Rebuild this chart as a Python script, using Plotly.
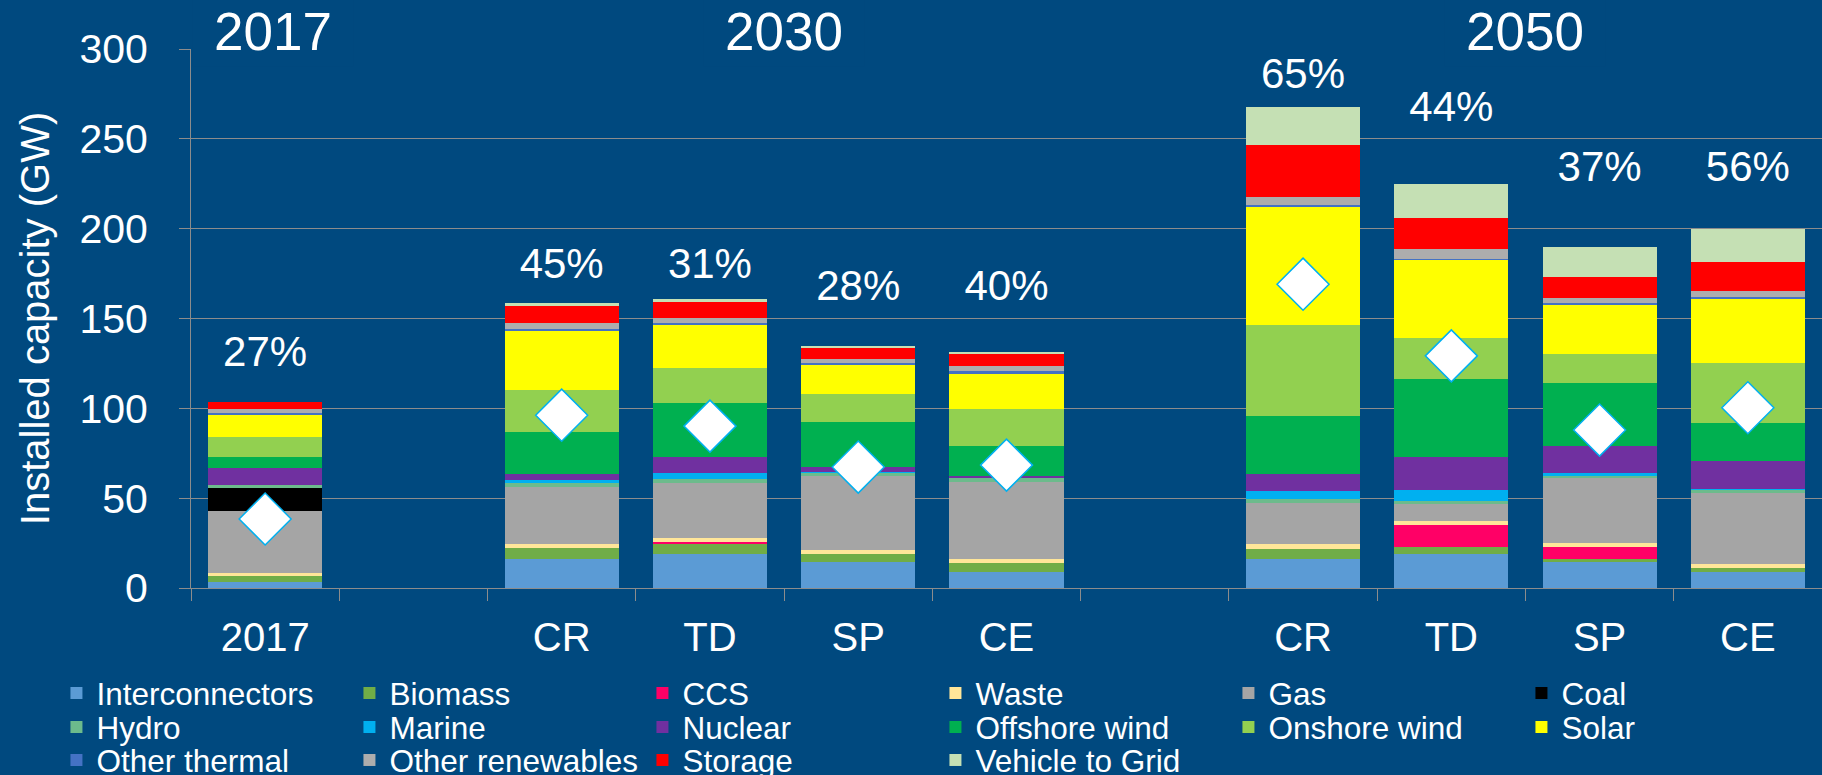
import plotly.graph_objects as go

# ---------------- data ----------------
categories = ["2017", "gap1", "2030 CR", "2030 TD", "2030 SP", "2030 CE",
              "gap2", "2050 CR", "2050 TD", "2050 SP", "2050 CE"]
tick_labels = ["2017", "", "CR", "TD", "SP", "CE", "", "CR", "TD", "SP", "CE"]
bar_keys = ["2017", "2030 CR", "2030 TD", "2030 SP", "2030 CE",
            "2050 CR", "2050 TD", "2050 SP", "2050 CE"]

interconnectors = [3.5, 16.1, 19.1, 14.3, 9.1, 16.1, 19.1, 14.6, 9.1]
biomass = [3.2, 6.0, 5.8, 4.4, 4.6, 5.6, 3.9, 1.5, 1.8]
ccs = [0, 0, 0.9, 0, 0, 0, 12.0, 6.9, 0]
waste = [1.5, 2.4, 1.8, 2.3, 2.4, 2.8, 2.1, 1.9, 2.4]
gas = [34.8, 31.9, 31.0, 41.5, 43.0, 22.8, 9.4, 36.1, 39.4]
coal = [12.8, 0, 0, 0, 0, 0, 0, 0, 0]
hydro = [1.5, 1.9, 2.0, 1.8, 2.3, 2.2, 2.1, 1.8, 2.2]
marine = [0, 1.9, 3.4, 0.3, 0, 4.6, 5.9, 1.0, 0.3]
nuclear = [9.6, 3.1, 8.9, 3.0, 1.1, 9.1, 18.5, 15.3, 15.7]
offshore_wind = [5.8, 23.4, 30.0, 24.9, 16.7, 32.5, 43.4, 35.1, 21.0]
onshore_wind = [11.5, 23.5, 19.5, 15.5, 20.5, 50.6, 22.6, 16.3, 33.4]
solar = [12.6, 33.2, 24.4, 16.3, 19.9, 66.2, 43.6, 27.5, 35.7]
other_thermal = [0.8, 0.9, 0.7, 0.7, 1.1, 0.9, 0.7, 0.7, 0.7]
other_renewables = [2.0, 3.4, 2.7, 2.3, 2.8, 4.1, 5.2, 2.8, 3.8]
storage = [4.2, 9.1, 9.0, 6.3, 6.6, 28.9, 17.5, 11.5, 15.9]
vehicle_to_grid = [0, 1.8, 1.9, 1.1, 1.3, 21.3, 18.7, 16.7, 18.6]

peak_markers = [38.4, 96.2, 90.1, 67.3, 68.4, 169.1, 129.2, 87.9, 100.3]
pct_labels = ["27%", "45%", "31%", "28%", "40%", "65%", "44%", "37%", "56%"]
pct_label_y = [129.2, 178.3, 178.3, 166.2, 166.2, 284.0, 265.7, 232.6, 232.6]

year_labels = ["2017", "2030", "2050"]

# ---------------- styles ----------------
BG = "#00497F"
GRID = "#8C8C8C"
FONT = "Arial, Liberation Sans, sans-serif"

series = [
    ("Interconnectors", interconnectors, "#5B9BD5"),
    ("Biomass", biomass, "#70AD47"),
    ("CCS", ccs, "#FF0066"),
    ("Waste", waste, "#FFE699"),
    ("Gas", gas, "#A5A5A5"),
    ("Coal", coal, "#000000"),
    ("Hydro", hydro, "#6CBB8C"),
    ("Marine", marine, "#00B0F0"),
    ("Nuclear", nuclear, "#7030A0"),
    ("Offshore wind", offshore_wind, "#00B050"),
    ("Onshore wind", onshore_wind, "#92D050"),
    ("Solar", solar, "#FFFF00"),
    ("Other thermal", other_thermal, "#4472C4"),
    ("Other renewables", other_renewables, "#ADADAD"),
    ("Storage", storage, "#FF0000"),
    ("Vehicle to Grid", vehicle_to_grid, "#C5E0B4"),
]


def pad(vals):
    m = dict(zip(bar_keys, vals))
    return [m.get(k) for k in categories]


fig = go.Figure()
legend_ids = ["legend", "legend2", "legend3"]
for i, (name, vals, color) in enumerate(series):
    fig.add_trace(go.Bar(
        x=categories, y=pad(vals), name=name,
        marker=dict(color=color, line=dict(width=0)),
        legend=legend_ids[i // 6],
    ))

fig.add_trace(go.Scatter(
    x=bar_keys, y=peak_markers, mode="markers", showlegend=False,
    marker=dict(symbol="diamond", size=40, color="white",
                line=dict(color="#00B0F0", width=1.5)),
    cliponaxis=False,
))

fig.add_trace(go.Scatter(
    x=bar_keys, y=pct_label_y, mode="text", text=pct_labels,
    textposition="middle center", showlegend=False,
    textfont=dict(size=42, color="white", family=FONT),
    cliponaxis=False,
))

year_x = [0.05, 3.5, 8.5]
for lbl, xx in zip(year_labels, year_x):
    fig.add_annotation(
        x=xx, y=1, xref="x", yref="paper", text=lbl, showarrow=False,
        yanchor="middle", yshift=18, font=dict(size=53, color="white", family=FONT),
        bgcolor=BG, width=150, borderpad=5,
    )

# legend rows placed below the plot area (paper coordinates)
legend_rows_y = [-0.1948, -0.2579, -0.3191]
legend_common = dict(orientation="h", xref="paper", yref="paper",
                     x=-0.0825, xanchor="left", yanchor="middle",
                     entrywidth=248, entrywidthmode="pixels",
                     font=dict(size=31.5, color="white", family=FONT),
                     bgcolor="rgba(0,0,0,0)", itemwidth=30, traceorder="normal")

fig.update_layout(
    width=1822, height=775,
    margin=dict(l=191, r=0, t=49, b=187, autoexpand=False),
    paper_bgcolor=BG, plot_bgcolor=BG,
    barmode="stack", bargap=0.23,
    font=dict(family=FONT, color="white"),
    xaxis=dict(type="category", categoryorder="array", categoryarray=categories,
               tickvals=categories, ticktext=tick_labels, tickson="boundaries",
               ticks="outside", ticklen=12, tickcolor=GRID, showline=True,
               linecolor=GRID, showgrid=False, tickfont=dict(size=40),
               range=[-0.5, 10.5], ticklabelstandoff=14, automargin=False),
    yaxis=dict(range=[0, 300], dtick=50, tickfont=dict(size=41), ticks="outside",
               ticklen=11, tickcolor=GRID, showline=True, linecolor=GRID,
               gridcolor=GRID, gridwidth=1, zeroline=False, ticklabelstandoff=23,
               automargin=False,
               title=dict(text="Installed capacity (GW)", font=dict(size=40),
                          standoff=17)),
    legend=dict(y=legend_rows_y[0], **legend_common),
    legend2=dict(y=legend_rows_y[1], **legend_common),
    legend3=dict(y=legend_rows_y[2], **legend_common),
)

fig.write_html("out.html", config={"displayModeBar": False},
               post_script="document.body.style.margin='0';")
